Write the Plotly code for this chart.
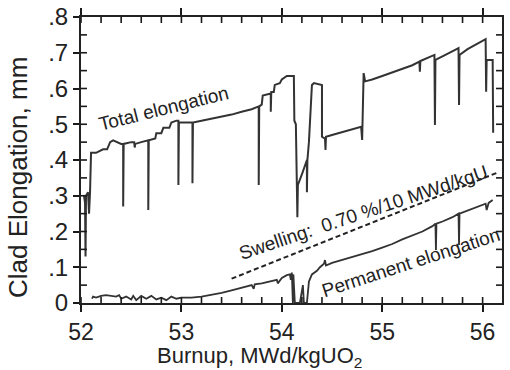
import plotly.graph_objects as go

# Total elongation (mm) vs burnup (MWd/kgUO2)
total_x = [52.03, 52.04, 52.045, 52.05, 52.07, 52.08, 52.09, 52.10, 52.15, 52.18, 52.22, 52.26, 52.29,
           52.32, 52.36, 52.40, 52.42, 52.42, 52.425, 52.50, 52.53, 52.535, 52.54, 52.60, 52.67, 52.67,
           52.675, 52.74, 52.75, 52.80, 52.82, 52.88, 52.90, 52.95, 52.97, 52.97, 52.975, 53.05, 53.11,
           53.11, 53.115, 53.2, 53.3, 53.4, 53.5, 53.6, 53.7, 53.77, 53.77, 53.775, 53.80, 53.81, 53.88,
           53.89, 53.89, 53.895, 53.92, 53.93, 53.98, 54.0, 54.05, 54.10, 54.12, 54.125, 54.14, 54.155,
           54.16, 54.20, 54.25, 54.25, 54.255, 54.27, 54.28, 54.30, 54.32, 54.40, 54.40, 54.43, 54.435,
           54.44, 54.5, 54.6, 54.7, 54.79, 54.80, 54.81, 54.815, 54.83, 54.9, 55.0, 55.1, 55.2, 55.3,
           55.37, 55.375, 55.38, 55.45, 55.52, 55.525, 55.53, 55.6, 55.7, 55.76, 55.765, 55.77, 55.85,
           55.95, 56.03, 56.035, 56.04, 56.10, 56.105]
total_y = [0.30, 0.28, 0.13, 0.30, 0.31, 0.25, 0.31, 0.42, 0.42, 0.425, 0.43, 0.43, 0.45,
           0.455, 0.45, 0.445, 0.445, 0.27, 0.445, 0.45, 0.45, 0.435, 0.445, 0.45, 0.455, 0.26,
           0.455, 0.46, 0.475, 0.475, 0.49, 0.49, 0.505, 0.51, 0.51, 0.33, 0.505, 0.505, 0.505,
           0.335, 0.505, 0.51, 0.515, 0.52, 0.527, 0.535, 0.542, 0.55, 0.33, 0.55, 0.555, 0.58, 0.585,
           0.585, 0.535, 0.59, 0.59, 0.61, 0.615, 0.625, 0.635, 0.635, 0.635, 0.51, 0.50, 0.24,
           0.33, 0.36, 0.40, 0.31, 0.40, 0.45, 0.52, 0.61, 0.615, 0.61, 0.465, 0.46, 0.428,
           0.465, 0.47, 0.478, 0.485, 0.493, 0.456, 0.60, 0.643, 0.62, 0.625, 0.635, 0.645, 0.655, 0.665,
           0.675, 0.647, 0.677, 0.685, 0.694, 0.498, 0.68, 0.69, 0.705, 0.713, 0.554, 0.694, 0.71,
           0.725, 0.738, 0.591, 0.68, 0.68, 0.476]

# Permanent elongation
perm_x = [52.11, 52.12, 52.15, 52.2, 52.25, 52.3, 52.35, 52.38, 52.4, 52.45, 52.5, 52.52, 52.55, 52.6,
          52.65, 52.7, 52.75, 52.8, 52.85, 52.9, 52.95, 53.0, 53.1, 53.2, 53.3, 53.4, 53.5, 53.6, 53.7,
          53.72, 53.73, 53.8, 53.9, 53.95, 53.96, 54.0, 54.05, 54.08, 54.09, 54.10, 54.11, 54.115, 54.13,
          54.14, 54.18, 54.21, 54.22, 54.25, 54.27, 54.30, 54.35, 54.38, 54.42, 54.43, 54.44, 54.5, 54.6,
          54.7, 54.8, 54.9, 55.0, 55.1, 55.2, 55.3, 55.4, 55.5, 55.53, 55.535, 55.54, 55.6, 55.7, 55.76,
          55.765, 55.77, 55.85, 55.95, 56.03, 56.04, 56.06, 56.10]
perm_y = [0.012, 0.018, 0.015, 0.02, 0.022, 0.02, 0.018, 0.022, 0.012, 0.018, 0.01, 0.02, 0.008, 0.02,
          0.012, 0.02, 0.01, 0.015, 0.008, 0.018, 0.012, 0.015, 0.015, 0.018, 0.022, 0.028, 0.035, 0.042, 0.05,
          0.04, 0.052, 0.055, 0.062, 0.065, 0.055, 0.07, 0.078, 0.08, 0.065, 0.085, 0.0, 0.08, 0.0,
          0.0, 0.0, 0.05, 0.0, 0.0, 0.06, 0.08, 0.09, 0.10, 0.11, 0.12, 0.105, 0.112, 0.12,
          0.13, 0.138, 0.145, 0.155, 0.165, 0.178, 0.19, 0.2, 0.215, 0.222, 0.148, 0.222, 0.228, 0.24, 0.25,
          0.162, 0.25, 0.258, 0.27, 0.278, 0.26, 0.28, 0.288]

# Swelling line (0.70 %/10 MWd/kgU)
swell_x = [53.5, 56.15]
swell_y = [0.068, 0.365]

x_range = [52, 56.193]
y_range = [0, 0.8]
y_tickvals = [0, 0.1, 0.2, 0.3, 0.4, 0.5, 0.6, 0.7, 0.8]
y_ticktext = ["0", ".1", ".2", ".3", ".4", ".5", ".6", ".7", ".8"]
x_tickvals = [52, 53, 54, 55, 56]
x_ticktext = ["52", "53", "54", "55", "56"]
x_minor_vals = [round(52 + 0.2 * i, 2) for i in range(21)]
y_minor_vals = [round(0.05 * i, 3) for i in range(1, 16)]

line_col = "#333333"
tick_col = "#1a1a1a"
font_family = "Liberation Sans, Arial, sans-serif"

# plot area size in pixels (to turn a tick length of a few px into data units)
PW, PH = 421, 286
tdx = (x_range[1] - x_range[0]) / PW * 6
tdy = (y_range[1] - y_range[0]) / PH * 6

fig = go.Figure()
fig.add_trace(go.Scatter(x=total_x, y=total_y, mode="lines",
                         line=dict(color=line_col, width=2), showlegend=False))
fig.add_trace(go.Scatter(x=perm_x, y=perm_y, mode="lines",
                         line=dict(color=line_col, width=1.8), showlegend=False))
fig.add_trace(go.Scatter(x=swell_x, y=swell_y, mode="lines",
                         line=dict(color="#222222", width=2, dash="5px,3px"), showlegend=False))

# inside tick marks on all four sides, built from the tick value lists as short segments
tx, ty = [], []
for v in x_minor_vals:
    tx += [v, v, None, v, v, None]
    ty += [y_range[0], y_range[0] + tdy, None, y_range[1], y_range[1] - tdy, None]
for v in y_minor_vals:
    tx += [x_range[0], x_range[0] + tdx, None, x_range[1], x_range[1] - tdx, None]
    ty += [v, v, None, v, v, None]
fig.add_trace(go.Scatter(x=tx, y=ty, mode="lines", hoverinfo="skip", showlegend=False,
                         line=dict(color=tick_col, width=1.6)))

fig.update_layout(
    template="none",
    width=510, height=370,
    margin=dict(l=81, r=8, t=17, b=67),
    paper_bgcolor="white", plot_bgcolor="white",
    font=dict(family=font_family, color="#222222"),
    xaxis=dict(range=x_range, tickmode="array", tickvals=x_tickvals, ticktext=x_ticktext,
               ticks="outside", ticklen=7, tickwidth=2, tickcolor=tick_col,
               showline=True, linecolor="#222", linewidth=2, mirror="ticks",
               showgrid=False, zeroline=False,
               tickfont=dict(size=23, family=font_family, color="#222")),
    yaxis=dict(range=y_range, tickmode="array", tickvals=y_tickvals, ticktext=y_ticktext,
               ticks="outside", ticklen=6, tickwidth=2, tickcolor=tick_col,
               showline=True, linecolor="#222", linewidth=2, mirror=True,
               showgrid=False, zeroline=False,
               tickfont=dict(size=24, family=font_family, color="#222")),
)

title_font = dict(size=22, family=font_family, color="#222")
fig.add_annotation(xref="paper", yref="paper", x=0.425, y=-0.19, xanchor="center", yanchor="middle",
                   text="Burnup, MWd/kgUO<sub>2</sub>", showarrow=False, font=title_font)
fig.add_annotation(xref="paper", yref="paper", x=-0.15, y=0.44, xanchor="center", yanchor="middle",
                   text="Clad Elongation, mm", textangle=-90, showarrow=False,
                   font=dict(size=26, family=font_family, color="#222"))

ann_font = dict(size=19, family=font_family, color="#222")
fig.add_annotation(x=52.82, y=0.545, text="Total elongation", showarrow=False,
                   textangle=-14, font=ann_font)
fig.add_annotation(x=54.81, y=0.252, text="Swelling:&nbsp; 0.70 %/10 MWd/kgU", showarrow=False,
                   textangle=-18.5, font=ann_font)
fig.add_annotation(x=55.285, y=0.112, text="Permanent elongation", showarrow=False,
                   textangle=-18, font=ann_font)

fig.write_html("out.html")
